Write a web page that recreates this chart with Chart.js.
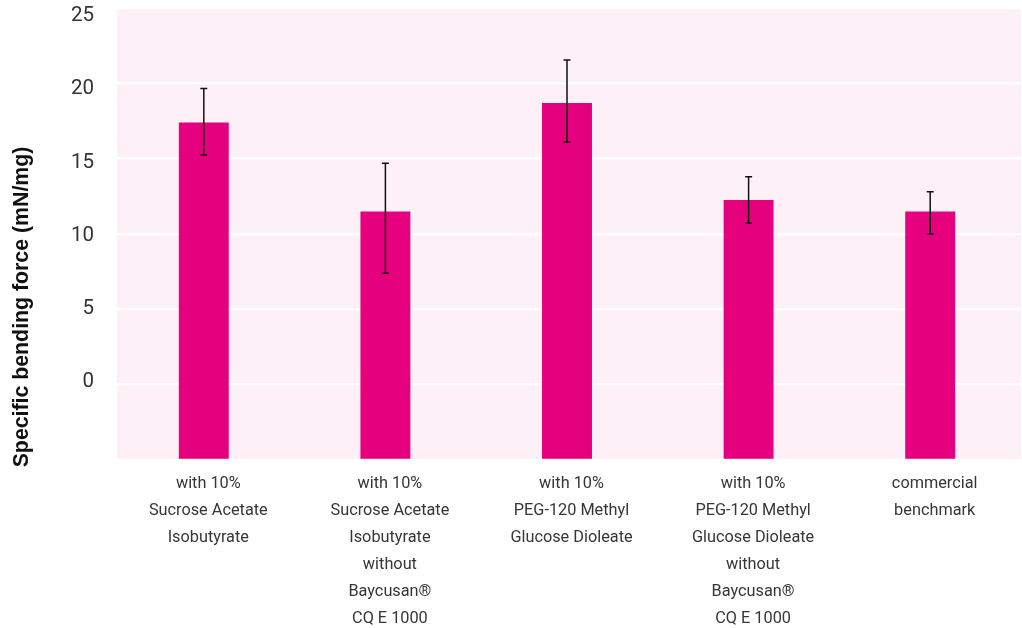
<!DOCTYPE html>
<html>
<head>
<meta charset="utf-8">
<script src="https://cdn.jsdelivr.net/npm/chart.js@4"></script>
<style>
  html, body { margin: 0; padding: 0; background: #ffffff; }
  #wrap { width: 1022px; height: 628px; position: relative; }
</style>
</head>
<body>
<div id="wrap"><canvas id="c"></canvas></div>
<script>
const categories = [
  ["with 10%", "Sucrose Acetate", "Isobutyrate"],
  ["with 10%", "Sucrose Acetate", "Isobutyrate", "without", "Baycusan®", "CQ E 1000"],
  ["with 10%", "PEG-120 Methyl", "Glucose Dioleate"],
  ["with 10%", "PEG-120 Methyl", "Glucose Dioleate", "without", "Baycusan®", "CQ E 1000"],
  ["commercial", "benchmark"]
];
const values = [17.4, 11.5, 18.7, 12.25, 11.5];
const errorLow = [15.25, 7.4, 16.1, 10.73, 10.0];
const errorHigh = [19.65, 14.7, 21.55, 13.8, 12.8];
const yTickLabels = [0, 5, 10, 15, 20, 25];
const yTitle = "Specific bending force (mN/mg)";

const TICK_FONT = "Roboto, Inter, 'Noto Sans', sans-serif";

const bgPlugin = {
  id: 'bg',
  beforeDraw(chart) {
    const {ctx, chartArea: a} = chart;
    ctx.save();
    ctx.fillStyle = '#fdf0f6';
    ctx.fillRect(a.left + 4, a.top, a.right - a.left - 4, a.bottom - a.top);
    ctx.restore();
  }
};

const errPlugin = {
  id: 'errbars',
  afterDatasetsDraw(chart) {
    const {ctx} = chart;
    const meta = chart.getDatasetMeta(0);
    const ys = chart.scales.y;
    ctx.save();
    ctx.strokeStyle = '#111111';
    ctx.lineWidth = 1.5;
    meta.data.forEach((bar, i) => {
      const x = bar.x;
      const yl = ys.getPixelForValue(errorLow[i]);
      const yh = ys.getPixelForValue(errorHigh[i]);
      ctx.beginPath();
      ctx.moveTo(x, yl); ctx.lineTo(x, yh);
      ctx.moveTo(x - 3.5, yl); ctx.lineTo(x + 3.5, yl);
      ctx.moveTo(x - 3.5, yh); ctx.lineTo(x + 3.5, yh);
      ctx.stroke();
    });
    ctx.restore();
  }
};

const titlePlugin = {
  id: 'ytitle',
  afterDraw(chart) {
    const {ctx} = chart;
    ctx.save();
    ctx.translate(22, 307);
    ctx.rotate(-Math.PI / 2);
    ctx.font = "bold 21.3px 'Liberation Sans', Arial, sans-serif";
    ctx.fillStyle = '#111111';
    ctx.textAlign = 'center';
    ctx.textBaseline = 'middle';
    ctx.fillText(yTitle, 0, 0);
    ctx.restore();
  }
};

function zeroPad(s) { s.paddingTop = 0; s.paddingBottom = 0; s.paddingLeft = 0; s.paddingRight = 0; }

new Chart(document.getElementById('c'), {
  type: 'bar',
  data: {
    labels: categories,
    datasets: [{
      data: values,
      base: -5,
      backgroundColor: '#e5007d',
      borderWidth: 0,
      categoryPercentage: 1.0,
      barPercentage: 0.275
    }]
  },
  options: {
    responsive: true,
    maintainAspectRatio: false,
    animation: false,
    devicePixelRatio: 1,
    layout: { padding: { top: 8, right: 1, bottom: 0, left: 0 } },
    plugins: {
      legend: { display: false },
      tooltip: { enabled: false }
    },
    scales: {
      x: {
        grid: { display: false, drawTicks: false },
        border: { display: false },
        ticks: {
          color: '#363636',
          font: { family: TICK_FONT, size: 16.3, weight: 400, lineHeight: 1.645 },
          padding: 11,
          labelOffset: 4.5,
          maxRotation: 0,
          autoSkip: false
        },
        afterFit(s) { s.height = 168; zeroPad(s); }
      },
      y: {
        position: 'left',
        min: -5,
        max: 25,
        grid: { color: '#ffffff', lineWidth: 2.5, drawTicks: false },
        border: { display: false },
        ticks: { display: false, stepSize: 5 },
        afterFit(s) { s.width = 0; zeroPad(s); }
      },
      y2: {
        position: 'left',
        min: -5.33,
        max: 25.55,
        grid: { display: false, drawTicks: false },
        border: { display: false },
        afterBuildTicks(s) { s.ticks = yTickLabels.map(v => ({ value: v })); },
        ticks: {
          color: '#333333',
          font: { family: TICK_FONT, size: 20.5, weight: 400 },
          padding: 19
        },
        afterFit(s) { s.width = 113; zeroPad(s); }
      }
    }
  },
  plugins: [bgPlugin, errPlugin, titlePlugin]
});
</script>
</body>
</html>
